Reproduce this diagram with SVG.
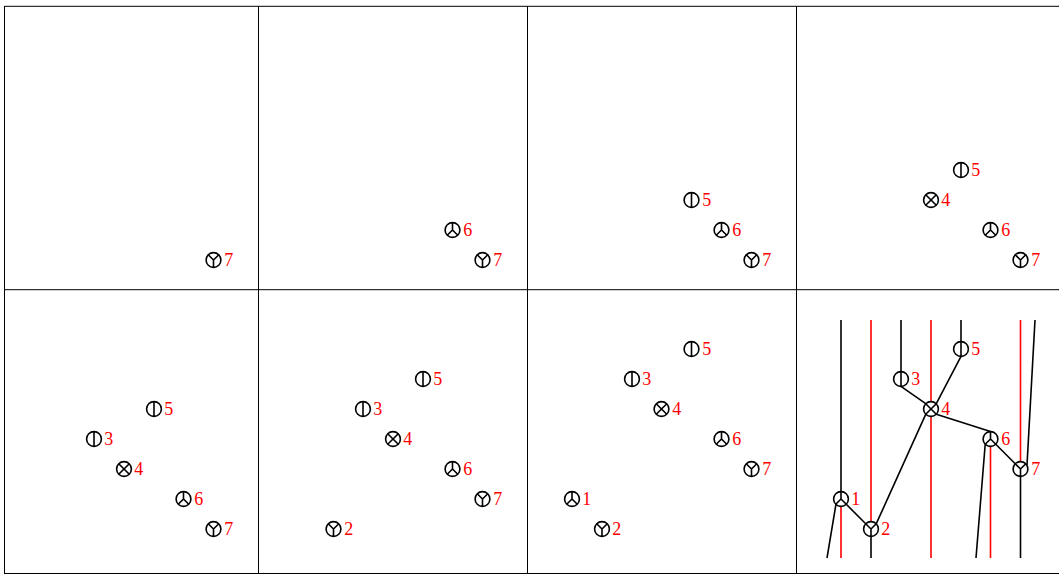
<svg xmlns="http://www.w3.org/2000/svg" width="1059" height="575" viewBox="0 0 1059 575">
<style>
.f{fill:none;stroke:#000;stroke-width:1}
.n{fill:#fff;stroke:#000;stroke-width:1.6}
.k{fill:none;stroke:#000;stroke-width:1.6}
.r{fill:none;stroke:#f00;stroke-width:1.6}
text{font-family:"Liberation Serif","Times New Roman",serif;font-size:18px;fill:#f00}
</style>
<defs>
<g id="sy" class="n"><circle r="7.4"/><path d="M0 0V7.4M0 0L-5.3-5.3M0 0L5.3-5.3"/></g>
<g id="sp" class="n"><circle r="7.4"/><path d="M0 0V-7.4M0 0L-5.3 5.3M0 0L5.3 5.3"/></g>
<g id="sx" class="n"><circle r="7.4"/><path d="M-5.3-5.3L5.3 5.3M-5.3 5.3L5.3-5.3"/></g>
<g id="si" class="n"><circle r="7.4"/><path d="M0-7.4V7.4"/></g>
</defs>
<rect width="1059" height="575" fill="#fff"/>
<g id="frame" class="f"><path d="M4.500 6.300H1059M4.500 289.700H1059M4.500 573.500H1059M4.500 6V574M258.500 6V574M527.500 6V574M796.500 6V574"/></g>
<g id="connectors">
<path class="r" d="M871 320V529M931 320V558M1020.500 320V469M841 499V558M990.500 439V558"/>
<path class="k" d="M841 320V499M901 320V386.400M961 320V349M1035 320L1027 465M901 386.400L925.700 403.700M961 356.400L936.300 403.700M925.700 414.300L876.300 523.700M936.300 414.300L990.500 431.600M995.800 444.300L1015.200 463.700M846.300 504.300L865.700 523.700M871 529V558M1020.500 469V558M836 504L827 558M985.200 444.300L976 558"/>
</g>
<g id="p1-7"><use href="#sy" x="213.500" y="260"/><text x="224.300" y="265.800">7</text></g>
<g id="p2-6"><use href="#sp" x="452.500" y="230"/><text x="463.300" y="235.800">6</text></g>
<g id="p2-7"><use href="#sy" x="482.500" y="260"/><text x="493.300" y="265.800">7</text></g>
<g id="p3-5"><use href="#si" x="691.500" y="200"/><text x="702.300" y="205.800">5</text></g>
<g id="p3-6"><use href="#sp" x="721.500" y="230"/><text x="732.300" y="235.800">6</text></g>
<g id="p3-7"><use href="#sy" x="751.500" y="260"/><text x="762.300" y="265.800">7</text></g>
<g id="p4-5"><use href="#si" x="961" y="170"/><text x="971.300" y="175.800">5</text></g>
<g id="p4-4"><use href="#sx" x="931" y="200"/><text x="941.300" y="205.800">4</text></g>
<g id="p4-6"><use href="#sp" x="990.500" y="230"/><text x="1001.300" y="235.800">6</text></g>
<g id="p4-7"><use href="#sy" x="1020.500" y="260"/><text x="1031.300" y="265.800">7</text></g>
<g id="p5-5"><use href="#si" x="154" y="409"/><text x="164.300" y="414.800">5</text></g>
<g id="p5-3"><use href="#si" x="94" y="439"/><text x="104.300" y="444.800">3</text></g>
<g id="p5-4"><use href="#sx" x="124" y="469"/><text x="134.300" y="474.800">4</text></g>
<g id="p5-6"><use href="#sp" x="183.500" y="499"/><text x="194.300" y="504.800">6</text></g>
<g id="p5-7"><use href="#sy" x="213.500" y="529"/><text x="224.300" y="534.800">7</text></g>
<g id="p6-5"><use href="#si" x="423" y="379"/><text x="433.300" y="384.800">5</text></g>
<g id="p6-3"><use href="#si" x="363" y="409"/><text x="373.300" y="414.800">3</text></g>
<g id="p6-4"><use href="#sx" x="393" y="439"/><text x="403.300" y="444.800">4</text></g>
<g id="p6-6"><use href="#sp" x="452.500" y="469"/><text x="463.300" y="474.800">6</text></g>
<g id="p6-7"><use href="#sy" x="482.500" y="499"/><text x="493.300" y="504.800">7</text></g>
<g id="p6-2"><use href="#sy" x="333.500" y="529"/><text x="344.300" y="534.800">2</text></g>
<g id="p7-5"><use href="#si" x="691.500" y="349"/><text x="702.300" y="354.800">5</text></g>
<g id="p7-3"><use href="#si" x="632" y="379"/><text x="642.300" y="384.800">3</text></g>
<g id="p7-4"><use href="#sx" x="661.500" y="409"/><text x="672.300" y="414.800">4</text></g>
<g id="p7-6"><use href="#sp" x="721.500" y="439"/><text x="732.300" y="444.800">6</text></g>
<g id="p7-7"><use href="#sy" x="751.500" y="469"/><text x="762.300" y="474.800">7</text></g>
<g id="p7-1"><use href="#sp" x="572" y="499"/><text x="582.300" y="504.800">1</text></g>
<g id="p7-2"><use href="#sy" x="602" y="529"/><text x="612.300" y="534.800">2</text></g>
<g id="p8-5"><use href="#si" x="961" y="349"/><text x="971.300" y="354.800">5</text></g>
<g id="p8-3"><use href="#si" x="901" y="379"/><text x="911.300" y="384.800">3</text></g>
<g id="p8-4"><use href="#sx" x="931" y="409"/><text x="941.300" y="414.800">4</text></g>
<g id="p8-6"><use href="#sp" x="990.500" y="439"/><text x="1001.300" y="444.800">6</text></g>
<g id="p8-7"><use href="#sy" x="1020.500" y="469"/><text x="1031.300" y="474.800">7</text></g>
<g id="p8-1"><use href="#sp" x="841" y="499"/><text x="851.300" y="504.800">1</text></g>
<g id="p8-2"><use href="#sy" x="871" y="529"/><text x="881.300" y="534.800">2</text></g>
</svg>
